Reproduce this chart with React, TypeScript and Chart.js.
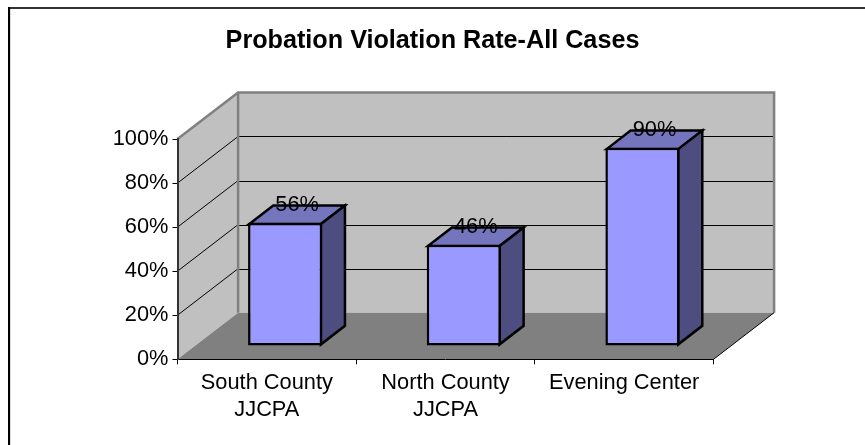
import React, { useEffect, useRef } from "react";
import { Chart, registerables } from "chart.js";

Chart.register(...registerables);

const titleText = "Probation Violation Rate-All Cases";
const categories = [["South County", "JJCPA"], ["North County", "JJCPA"], "Evening Center"];
const violationRates = [56, 46, 90];
const FONT = '"Liberation Sans", Arial, sans-serif';

// projection of the 3-D box
const WALL_DX = 60.6;
const WALL_DY = -46.6;
const BAR_SHIFT_X = 18.3;
const BAR_SHIFT_Y = -13.2;
const BAR_DEPTH_X = 24;
const BAR_DEPTH_Y = -18.5;
const BAR_STROKE = 2.5;

const poly = (ctx: CanvasRenderingContext2D, pts: number[][]) => {
  ctx.beginPath();
  pts.forEach((p, i) => (i ? ctx.lineTo(p[0], p[1]) : ctx.moveTo(p[0], p[1])));
  ctx.closePath();
};
const seg = (ctx: CanvasRenderingContext2D, x1: number, y1: number, x2: number, y2: number) => {
  ctx.beginPath();
  ctx.moveTo(x1, y1);
  ctx.lineTo(x2, y2);
  ctx.stroke();
};

const box3d = {
  id: "box3d",
  beforeDraw(chart: any) {
    const { ctx, scales } = chart;
    const x = scales.x;
    const y = scales.y;
    const L = x.left;
    const R = x.right;
    const B = y.getPixelForValue(0);
    const T = y.getPixelForValue(100);
    ctx.save();
    // outer frame
    ctx.strokeStyle = "#333333";
    ctx.lineWidth = 2;
    seg(ctx, 8, 8, 865, 8);
    ctx.strokeStyle = "#000000";
    seg(ctx, 9, 7, 9, 445);
    ctx.strokeStyle = "#d8d8d8";
    ctx.lineWidth = 1;
    seg(ctx, 10.5, 9, 10.5, 445);
    // walls and floor
    ctx.fillStyle = "#c0c0c0";
    poly(ctx, [[L, B], [L, T], [L + WALL_DX, T + WALL_DY], [L + WALL_DX, B + WALL_DY]]);
    ctx.fill();
    poly(ctx, [[L + WALL_DX, B + WALL_DY], [L + WALL_DX, T + WALL_DY], [R + WALL_DX, T + WALL_DY], [R + WALL_DX, B + WALL_DY]]);
    ctx.fill();
    ctx.fillStyle = "#808080";
    poly(ctx, [[L, B], [L + WALL_DX, B + WALL_DY], [R + WALL_DX, B + WALL_DY], [R, B]]);
    ctx.fill();
    // gridlines on both walls
    ctx.strokeStyle = "#000000";
    ctx.lineWidth = 1;
    y.ticks.forEach((t: any) => {
      if (t.value === 0 || t.value === 100) return;
      const py = y.getPixelForValue(t.value);
      seg(ctx, L, py, L + WALL_DX, py + WALL_DY);
      const by = Math.round(py + WALL_DY) + 0.5;
      seg(ctx, L + WALL_DX, by, R + WALL_DX, by);
    });
    // wall edges
    ctx.strokeStyle = "#808080";
    ctx.lineWidth = 2.5;
    ctx.beginPath();
    ctx.moveTo(L, T);
    ctx.lineTo(L + WALL_DX, T + WALL_DY);
    ctx.lineTo(R + WALL_DX, T + WALL_DY);
    ctx.lineTo(R + WALL_DX, B + WALL_DY);
    ctx.stroke();
    seg(ctx, L + WALL_DX, T + WALL_DY, L + WALL_DX, B + WALL_DY);
    // floor front-right edge
    ctx.strokeStyle = "#000000";
    ctx.lineWidth = 1;
    seg(ctx, R, B, R + WALL_DX, B + WALL_DY);
    ctx.restore();
  },
  beforeDatasetDraw(chart: any, args: any) {
    const { ctx } = chart;
    const inset = BAR_STROKE / 2;
    ctx.save();
    ctx.translate(BAR_SHIFT_X, BAR_SHIFT_Y);
    ctx.lineWidth = BAR_STROKE;
    ctx.lineJoin = "miter";
    ctx.strokeStyle = "#000000";
    args.meta.data.forEach((el: any) => {
      const l = el.x - el.width / 2 + inset;
      const r = el.x + el.width / 2 - inset;
      const t = el.y + inset;
      const b = el.base - inset;
      ctx.fillStyle = "#7575bd";
      poly(ctx, [[l, t], [l + BAR_DEPTH_X, t + BAR_DEPTH_Y], [r + BAR_DEPTH_X, t + BAR_DEPTH_Y], [r, t]]);
      ctx.fill();
      ctx.stroke();
      ctx.fillStyle = "#4d4d80";
      poly(ctx, [[r, t], [r + BAR_DEPTH_X, t + BAR_DEPTH_Y], [r + BAR_DEPTH_X, b + BAR_DEPTH_Y], [r, b]]);
      ctx.fill();
      ctx.stroke();
    });
  },
  afterDatasetDraw(chart: any, args: any) {
    const { ctx } = chart;
    ctx.restore();
    ctx.save();
    ctx.fillStyle = "#000000";
    ctx.font = `21.8px ${FONT}`;
    ctx.textAlign = "center";
    ctx.textBaseline = "middle";
    args.meta.data.forEach((el: any, i: number) => {
      ctx.fillText(
        `${violationRates[i]}%`,
        el.x + BAR_SHIFT_X + BAR_DEPTH_X / 2,
        el.y + BAR_SHIFT_Y + BAR_DEPTH_Y + 1
      );
    });
    ctx.restore();
  },
};

export default function App() {
  const ref = useRef<HTMLCanvasElement>(null);
  useEffect(() => {
    const chart = new Chart(ref.current as HTMLCanvasElement, {
      type: "bar",
      data: {
        labels: categories as any,
        datasets: [
          {
            data: violationRates,
            backgroundColor: "#9999ff",
            borderColor: "#000000",
            borderWidth: BAR_STROKE,
            borderSkipped: false,
            barPercentage: 0.415,
            categoryPercentage: 1,
            clip: false as any,
            yAxisID: "y",
          },
        ],
      },
      options: {
        animation: false,
        responsive: false,
        layout: { padding: 0 },
        plugins: {
          legend: { display: false },
          tooltip: { enabled: false },
          title: {
            display: true,
            text: titleText,
            color: "#000000",
            font: { family: FONT, size: 25.2, weight: "bold" },
            padding: { top: 26, bottom: 82.8 },
          },
        },
        scales: {
          x: {
            afterFit: (s: any) => {
              s.height = 85.7;
            },
            grid: { drawOnChartArea: false, tickLength: 5, tickColor: "#000000", tickWidth: 1 },
            border: { color: "#000000", width: 1 },
            ticks: {
              color: "#000000",
              font: { family: FONT, size: 21.8, lineHeight: 1.25 },
              padding: 5,
              maxRotation: 0,
              autoSkip: false,
            },
          },
          y: {
            min: 0,
            max: 100,
            afterFit: (s: any) => {
              s.width = 177.5;
            },
            grid: { drawOnChartArea: false, tickLength: 5, tickColor: "#000000", tickWidth: 1 },
            border: { color: "#333333", width: 2 },
            ticks: {
              stepSize: 20,
              color: "#000000",
              font: { family: FONT, size: 21.8 },
              padding: 4,
              callback: (v: any) => `${v}%`,
            },
          },
          blankRight: {
            type: "linear",
            position: "right",
            afterFit: (s: any) => {
              s.width = 151.5;
            },
            grid: { display: false },
            border: { display: false },
            ticks: { display: false },
          },
        },
      },
      plugins: [box3d],
    });
    return () => chart.destroy();
  }, []);
  return (
    <div style={{ position: "fixed", left: 0, top: 0, width: 865, height: 445, background: "#ffffff" }}>
      <canvas ref={ref} width={865} height={445} style={{ display: "block" }} />
    </div>
  );
}
